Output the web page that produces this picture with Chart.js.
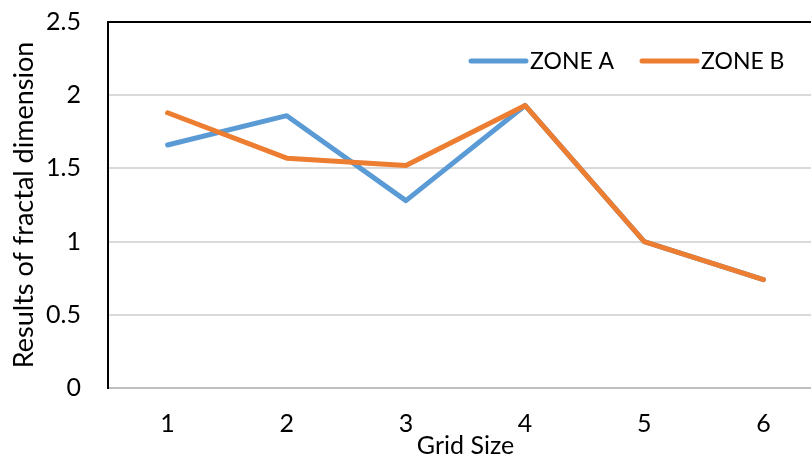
<!DOCTYPE html>
<html>
<head>
<meta charset="utf-8">
<script src="https://cdn.jsdelivr.net/npm/chart.js@4"></script>
<style>
  html, body { margin: 0; padding: 0; background: #fff; overflow: hidden; }
  #wrap { width: 840px; height: 457px; }
</style>
</head>
<body>
<div id="wrap"><canvas id="fractalChart" width="840" height="457"></canvas></div>
<script>
// values
const gridSizes = ['1', '2', '3', '4', '5', '6'];
const zoneA = [1.66, 1.86, 1.28, 1.93, 1.00, 0.74];
const zoneB = [1.88, 1.57, 1.52, 1.93, 1.00, 0.74];
const yTicks = [0, 0.5, 1, 1.5, 2, 2.5];

const FONT = 'Lato, "Noto Sans", sans-serif';
const FS = 25;
const blue = '#5b9bd5';
const orange = '#ed7d31';

// legend sits inside the plot, top right, so it is drawn by hand
const insideLegend = {
  id: 'insideLegend',
  afterDraw(chart, args, opts) {
    const ctx = chart.ctx;
    ctx.save();
    ctx.font = opts.fontSize + 'px ' + FONT;
    ctx.textBaseline = 'middle';
    ctx.textAlign = 'left';
    chart.data.datasets.forEach((ds, i) => {
      const x = opts.xs[i];
      ctx.strokeStyle = ds.borderColor;
      ctx.lineWidth = ds.borderWidth;
      ctx.lineCap = 'round';
      ctx.beginPath();
      ctx.moveTo(x, opts.y);
      ctx.lineTo(x + opts.sample, opts.y);
      ctx.stroke();
      ctx.fillStyle = '#000';
      ctx.fillText(ds.label, x + opts.sample + 4, opts.y + 1);
    });
    ctx.restore();
  }
};

var canvasElem = document.getElementById('fractalChart');
var config = {
  type: 'line',
  data: {
    labels: gridSizes,
    datasets: [
      { label: 'ZONE A', data: zoneA, borderColor: blue, backgroundColor: blue,
        borderWidth: 5, pointRadius: 0, tension: 0, borderCapStyle: 'round', borderJoinStyle: 'round', order: 1 },
      { label: 'ZONE B', data: zoneB, borderColor: orange, backgroundColor: orange,
        borderWidth: 5, pointRadius: 0, tension: 0, borderCapStyle: 'round', borderJoinStyle: 'round', order: 0 }
    ]
  },
  options: {
    responsive: false,
    animation: false,
    layout: { padding: { top: 22, right: 17, left: 0, bottom: 0 } },
    plugins: {
      legend: { display: false },
      tooltip: { enabled: false },
      insideLegend: { xs: [471, 642], y: 61, sample: 55, fontSize: 23 }
    },
    scales: {
      x: {
        offset: true,
        grid: { display: false, drawTicks: false },
        border: { display: true, color: '#bfbfbf', width: 2 },
        ticks: { color: '#000', padding: 21, font: { family: FONT, size: FS } },
        title: { display: true, text: 'Grid Size', color: '#000', padding: 0, font: { family: FONT, size: FS, lineHeight: 0.9 } },
        afterFit: s => { s.height = 69; }
      },
      y: {
        min: 0, max: 2.5,
        afterBuildTicks: s => { s.ticks = yTicks.map(v => ({ value: v })); },
        grid: {
          drawTicks: false,
          color: c => c.tick.value === 2.5 ? '#000' : (c.tick.value === 0 ? '#bfbfbf' : '#d9d9d9'),
          lineWidth: 2
        },
        border: { display: true, color: '#000', width: 2 },
        ticks: { color: '#000', padding: 27, font: { family: FONT, size: FS }, callback: v => String(v) },
        title: { display: true, text: 'Results of fractal dimension', color: '#000', padding: { top: 8, bottom: 0 }, font: { family: FONT, size: 27 } },
        afterFit: s => { s.width = 108; s.paddingTop = 0; s.paddingBottom = 0; }
      }
    }
  },
  plugins: [insideLegend]
};
var fractalChart = new Chart(canvasElem, config);
</script>
</body>
</html>
